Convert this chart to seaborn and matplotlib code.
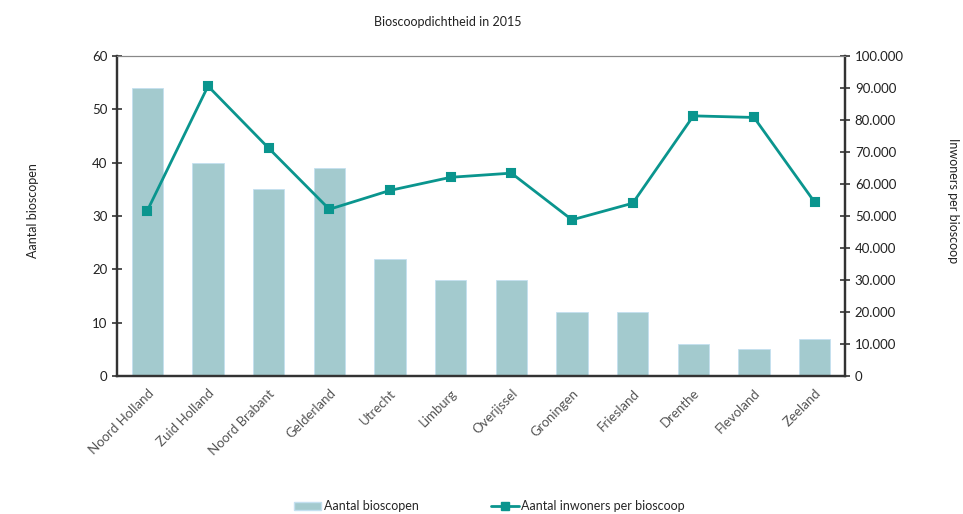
import matplotlib
matplotlib.use("Agg")
import matplotlib.pyplot as plt
from matplotlib.ticker import FuncFormatter, FixedLocator, NullFormatter
from matplotlib.lines import Line2D
from matplotlib.patches import Patch
import numpy as np
import pandas as pd
import seaborn as sns

# data
provincies = ["Noord Holland", "Zuid Holland", "Noord Brabant", "Gelderland", "Utrecht",
              "Limburg", "Overijssel", "Groningen", "Friesland", "Drenthe", "Flevoland", "Zeeland"]
bioscopen = [54, 40, 35, 39, 22, 18, 18, 12, 12, 6, 5, 7]
inwoners_per_bioscoop = [51700, 90600, 71200, 52100, 58000, 62100,
                         63400, 48800, 54000, 81300, 80800, 54300]

df = pd.DataFrame({"provincie": provincies, "bioscopen": bioscopen,
                   "inwoners": inwoners_per_bioscoop})

sns.set_style("white")
plt.rcParams["font.family"] = ["Lato", "DejaVu Sans"]

bar_color = "#a3cace"
line_color = "#0a958e"
text_color = "#222222"

fig = plt.figure(figsize=(9.63, 5.14), dpi=100)
ax = fig.add_axes([0.1215, 0.2685, 0.756, 0.6225])

sns.barplot(data=df, x="provincie", y="bioscopen", ax=ax, color=bar_color,
            width=0.52, saturation=1, edgecolor="#c4e0f0", linewidth=0.6)
ax.set_xlim(-0.5, len(provincies) - 0.5)
ax.set_ylim(0, 60)
ax.set_yticks(range(0, 61, 10))

ax2 = ax.twinx()
sns.pointplot(data=df, x="provincie", y="inwoners", ax=ax2, color=line_color,
              markers="s", markersize=6, linewidth=2)
ax2.set_xlim(-0.5, len(provincies) - 0.5)
ax2.set_ylim(0, 100000)
ax2.set_yticks(range(0, 100001, 10000))
ax2.yaxis.set_major_formatter(FuncFormatter(lambda v, p: f"{int(v):,}".replace(",", ".")))

# category labels at centers, tick marks at boundaries
ax.set_xticks(np.arange(len(provincies)))
ax.set_xticklabels(provincies, rotation=45, ha="right", rotation_mode="anchor",
                   fontsize=9.5, color="#555555")
ax.tick_params(axis="x", length=0, pad=8)
ax.xaxis.set_minor_locator(FixedLocator(np.arange(-0.5, len(provincies), 1.0)))
ax.xaxis.set_minor_formatter(NullFormatter())
ax.tick_params(axis="x", which="minor", length=7, direction="inout", width=1.2, color="#333333")

ax.tick_params(axis="y", direction="inout", length=7, width=1.2, labelsize=9.5,
               colors="#333333", labelcolor=text_color, left=True)
ax2.tick_params(axis="y", direction="inout", length=7, width=1.2, labelsize=9.5,
                colors="#333333", labelcolor=text_color, right=True)

for a in (ax, ax2):
    a.set_xlabel("")
    a.set_ylabel("")
    for side in ("left", "right", "bottom"):
        a.spines[side].set_color("#333333")
        a.spines[side].set_linewidth(1.6)
    a.spines["top"].set_color("#888888")
    a.spines["top"].set_linewidth(0.8)

fig.text(0.465, 0.958, "Bioscoopdichtheid in 2015", ha="center", va="center",
         fontsize=9, color=text_color)
fig.text(0.034, 0.59, "Aantal bioscopen", rotation=90, ha="center", va="center",
         fontsize=9, color=text_color)
fig.text(0.99, 0.61, "Inwoners per bioscoop", rotation=270, ha="center", va="center",
         fontsize=9, color=text_color)

handles = [Patch(facecolor=bar_color, edgecolor="#c4e0f0"),
           Line2D([], [], color=line_color, marker="s", markersize=6, linewidth=2)]
fig.legend(handles, ["Aantal bioscopen", "Aantal inwoners per bioscoop"],
           loc="center", bbox_to_anchor=(0.508, 0.015), ncol=2, frameon=False,
           fontsize=9, handlelength=2.2, handletextpad=0.2, columnspacing=5.8)

fig.savefig("out.png", dpi=100)
